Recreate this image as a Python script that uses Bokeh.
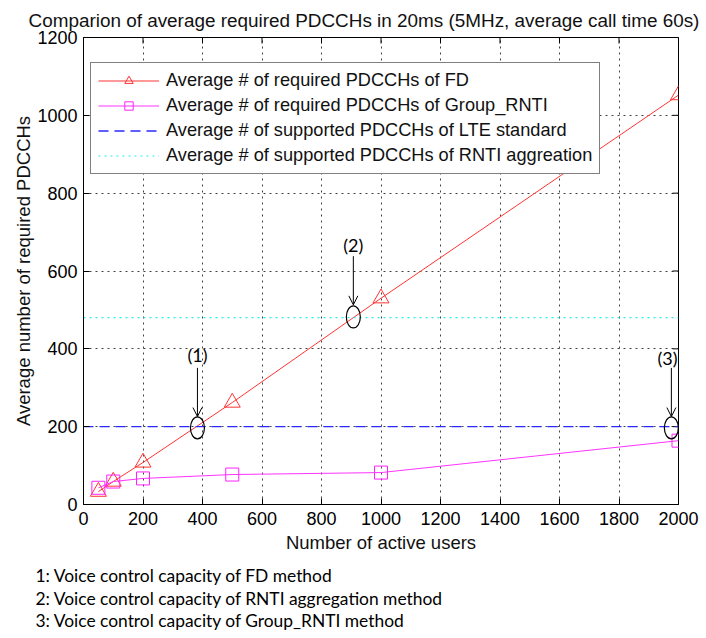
import math
from bokeh.plotting import figure
from bokeh.models import (LinearAxis, FixedTicker, Legend, Title, Arrow,
                          OpenHead, Label, Range1d, Grid)
from bokeh.embed import file_html
from bokeh.resources import INLINE

# ---- data ----
users = [50, 100, 200, 500, 1000, 2000]
fd_required = [33, 59, 108, 262, 530, 1052]
group_rnti_required = [43, 59, 67, 77, 82, 164]
lte_supported = 200
rnti_agg_supported = 480
x_span = [0, 2000]
x_ticks = [0, 200, 400, 600, 800, 1000, 1200, 1400, 1600, 1800, 2000]
y_ticks = [0, 200, 400, 600, 800, 1000, 1200]

annot_x = [383, 907, 1976]
annot_y = [197, 482, 197]
annot_labels = ["(1)", "(2)", "(3)"]
label_x = [383, 907, 1963]
label_y = [385, 667, 377]
arrow_top = [351, 638, 351]
arrow_end = [226, 513, 226]

footnotes = [
    "1: Voice control capacity of FD method",
    "2: Voice control capacity of RNTI aggregation method",
    "3: Voice control capacity of Group_RNTI  method",
]

FONT = "Liberation Sans"

p = figure(width=706, height=638, output_backend="svg", toolbar_location=None,
           x_range=Range1d(0, 2000), y_range=Range1d(0, 1200),
           min_border_left=83, min_border_right=28, min_border_top=37,
           min_border_bottom=133, x_axis_type=None, y_axis_type=None)
p.outline_line_color = "black"
p.outline_line_width = 1

tx = FixedTicker(ticks=x_ticks)
ty = FixedTicker(ticks=y_ticks)

def style_axis(ax):
    ax.major_tick_in = 6
    ax.major_tick_out = 0
    ax.minor_tick_in = 0
    ax.minor_tick_out = 0
    ax.axis_line_color = "black"
    ax.major_tick_line_color = "black"
    ax.major_label_text_font = FONT
    ax.major_label_text_font_size = "18px"
    ax.major_label_text_color = "black"
    ax.axis_label_text_font = FONT
    ax.axis_label_text_font_size = "18.5px"
    ax.axis_label_text_font_style = "normal"
    ax.axis_label_text_color = "#111111"

xa = LinearAxis(ticker=tx, axis_label="Number of active users")
style_axis(xa)
xa.major_label_standoff = 7
xa.axis_label_standoff = 4
p.add_layout(xa, "below")
ya = LinearAxis(ticker=ty, axis_label="Average number of required PDCCHs")
style_axis(ya)
ya.major_label_standoff = 6
ya.axis_label_standoff = 0
p.add_layout(ya, "left")

for dim, tk in ((0, tx), (1, ty)):
    p.add_layout(Grid(dimension=dim, ticker=tk, grid_line_color="#222222",
                      grid_line_dash="2 4", grid_line_alpha=0.85))

# inward ticks on the top and right edges of the box (half of each dash is clipped)
p.scatter(x_ticks, [1200] * len(x_ticks), marker="dash", angle=math.pi / 2,
          size=12, line_color="black", line_width=1)
p.scatter([2000] * len(y_ticks), y_ticks, marker="dash", size=12,
          line_color="black", line_width=1)

# series
r1 = p.line(users, fd_required, line_color="#ff3333", line_width=1)
m1 = p.scatter(users, fd_required, marker="triangle", size=16, line_color="#ff3333",
               fill_color=None, line_width=1)
r2 = p.line(users, group_rnti_required, line_color="#ff33ff", line_width=1)
m2 = p.scatter(users, group_rnti_required, marker="square", size=13, line_color="#ff22ff",
               fill_color=None, line_width=1)
r3 = p.line(x_span, [lte_supported, lte_supported], line_color="#2a2aff",
            line_dash="10 6", line_width=1.3)
r4 = p.line(x_span, [rnti_agg_supported, rnti_agg_supported], line_color="#22eeee",
            line_dash="2 4", line_width=1.2)

legend = Legend(items=[
    ("Average # of required PDCCHs of FD", [r1, m1]),
    ("Average # of required PDCCHs of Group_RNTI", [r2, m2]),
    ("Average # of supported PDCCHs of LTE standard", [r3]),
    ("Average # of supported PDCCHs of RNTI aggreation", [r4]),
], location=(7, 330))
legend.label_text_font = FONT
legend.label_text_font_size = "18.2px"
legend.label_text_color = "#111111"
legend.border_line_color = "black"
legend.border_line_width = 1
legend.background_fill_alpha = 1
legend.glyph_width = 61
legend.glyph_height = 21
legend.label_height = 21
legend.spacing = 4
legend.padding = 7
legend.label_standoff = 7
legend.margin = 0
p.add_layout(legend, "center")

# annotations
p.ellipse(annot_x, annot_y, width=14, height=22, width_units="screen",
          height_units="screen", fill_color=None, line_color="black", line_width=1.2)
for ax_, lx, ly, at, ae, txt in zip(annot_x, label_x, label_y, arrow_top, arrow_end,
                                    annot_labels):
    p.add_layout(Arrow(end=OpenHead(size=9, line_color="black", line_width=1),
                       x_start=ax_, y_start=at, x_end=ax_, y_end=ae,
                       line_color="black", line_width=1))
    p.add_layout(Label(x=lx, y=ly, text=txt, text_align="center",
                       text_baseline="middle", text_font="Lato",
                       text_font_size="18px", text_color="black"))

title = Title(text="Comparion of average required PDCCHs in 20ms (5MHz, average call time 60s)",
              align="left", offset=-55, standoff=13, text_font=FONT,
              text_font_size="18.9px", text_font_style="normal", text_color="#111111")
p.add_layout(title, "above")

p.add_layout(Title(text="\n".join(footnotes), align="left", offset=-48, text_font="Lato",
                   text_font_size="17.4px", text_font_style="normal",
                   text_line_height=1.09, text_color="black", standoff=14), "below")

open("out.html", "w").write(file_html(p, INLINE))
